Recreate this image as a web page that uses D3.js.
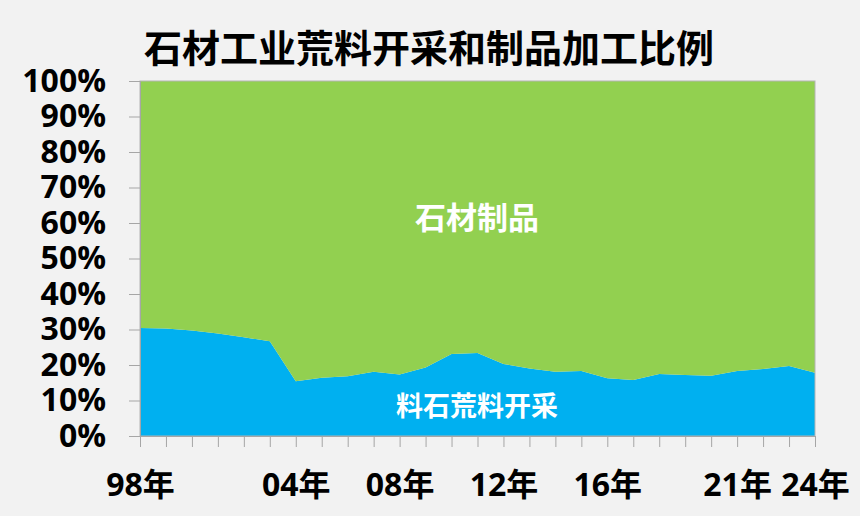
<!DOCTYPE html>
<html>
<head>
  <meta charset="UTF-8">
  <title>石材工业荒料开采和制品加工比例</title>
  <script src="https://cdn.jsdelivr.net/npm/d3@7"></script>
  <style>
    body { margin: 0; background: #f2f2f2; }
    svg { display: block; font-family: "Noto Sans CJK SC", "Noto Sans", sans-serif; font-weight: bold; }
    .axis text { font-family: "Open Sans", "Noto Sans CJK SC", sans-serif; }
    .axis path, .axis line { stroke: #a6a6a6; }
  </style>
</head>
<body>

<div class="chart"></div>

<script>
  // years 1998..2024
  var years = [1998, 1999, 2000, 2001, 2002, 2003, 2004, 2005, 2006, 2007, 2008, 2009, 2010,
               2011, 2012, 2013, 2014, 2015, 2016, 2017, 2018, 2019, 2020, 2021, 2022, 2023, 2024];
  // 料石荒料开采 share, %
  var quarry = [30.4, 30.3, 29.7, 28.9, 27.8, 26.7, 15.4, 16.4, 16.8, 18.1, 17.3, 19.3, 23.1,
                23.4, 20.3, 19.0, 18.1, 18.3, 16.3, 15.8, 17.5, 17.2, 17.0, 18.3, 18.9, 19.7, 17.8];
  // 石材制品 share, %
  var products = quarry.map(v => 100 - v);
  var tickLabels = {1998: '98年', 2004: '04年', 2008: '08年', 2012: '12年', 2016: '16年', 2021: '21年', 2024: '24年'};
  var yTicks = [0, 10, 20, 30, 40, 50, 60, 70, 80, 90, 100];

  var W = 860, H = 516;
  var margin = { top: 81, right: 45, bottom: 80, left: 140 };
  var width = W - margin.left - margin.right;
  var height = H - margin.top - margin.bottom;

  var svg = d3.select('.chart')
    .append('svg')
      .attr('width', W)
      .attr('height', H);

  svg.append('rect').attr('width', W).attr('height', H).attr('fill', '#f2f2f2');

  var g = svg.append('g')
      .attr('transform', 'translate(' + margin.left + ', ' + margin.top + ')');

  var x = d3.scaleLinear().domain([1998, 2024]).range([0, width]);
  var y = d3.scaleLinear().domain([0, 100]).range([height, 0]);

  var table = years.map((yr, i) => ({ year: yr, quarry: quarry[i], products: products[i] }));
  var series = d3.stack().keys(['quarry', 'products'])(table);
  var colors = { quarry: '#00b0f0', products: '#92d050' };

  var area = d3.area()
    .x(d => x(d.data.year))
    .y0(d => y(d[0]))
    .y1(d => y(d[1]));

  g.selectAll('path.layer')
    .data(series)
    .enter()
    .append('path')
      .attr('class', 'layer')
      .attr('d', area)
      .attr('fill', d => colors[d.key]);

  // plot border
  g.append('rect')
    .attr('width', width).attr('height', height)
    .attr('fill', 'none').attr('stroke', '#b4b4b4').attr('stroke-width', 1);

  // Y axis
  var yAxis = d3.axisLeft(y).tickValues(yTicks).tickSize(11).tickFormat(d => d + '%').tickPadding(23);
  g.append('g').attr('class', 'axis').call(yAxis)
    .call(s => s.selectAll('text').attr('font-size', 32).attr('fill', '#000').attr('font-family', null))
    .call(s => s.select('.domain').attr('stroke', '#a6a6a6'));

  // X axis
  var xAxis = d3.axisBottom(x).tickValues(years).tickSize(11).tickSizeOuter(0)
    .tickFormat(d => tickLabels[d] || '').tickPadding(26);
  g.append('g').attr('class', 'axis')
      .attr('transform', `translate(0, ${height})`)
    .call(xAxis)
    .call(s => s.selectAll('text').attr('font-size', 32).attr('fill', '#000').attr('font-family', null));

  // series labels
  g.append('text')
    .attr('x', x(2010.98)).attr('y', y(62))
    .attr('text-anchor', 'middle').attr('dominant-baseline', 'central')
    .attr('font-size', 31).attr('fill', '#fff')
    .text('石材制品');
  g.append('text')
    .attr('x', x(2010.98)).attr('y', y(8.9))
    .attr('text-anchor', 'middle').attr('dominant-baseline', 'central')
    .attr('font-size', 27).attr('fill', '#fff')
    .text('料石荒料开采');

  // title
  svg.append('text')
    .attr('x', 429).attr('y', 45)
    .attr('text-anchor', 'middle').attr('dominant-baseline', 'central')
    .attr('font-size', 38).attr('fill', '#000')
    .text('石材工业荒料开采和制品加工比例');
</script>

</body>
</html>
